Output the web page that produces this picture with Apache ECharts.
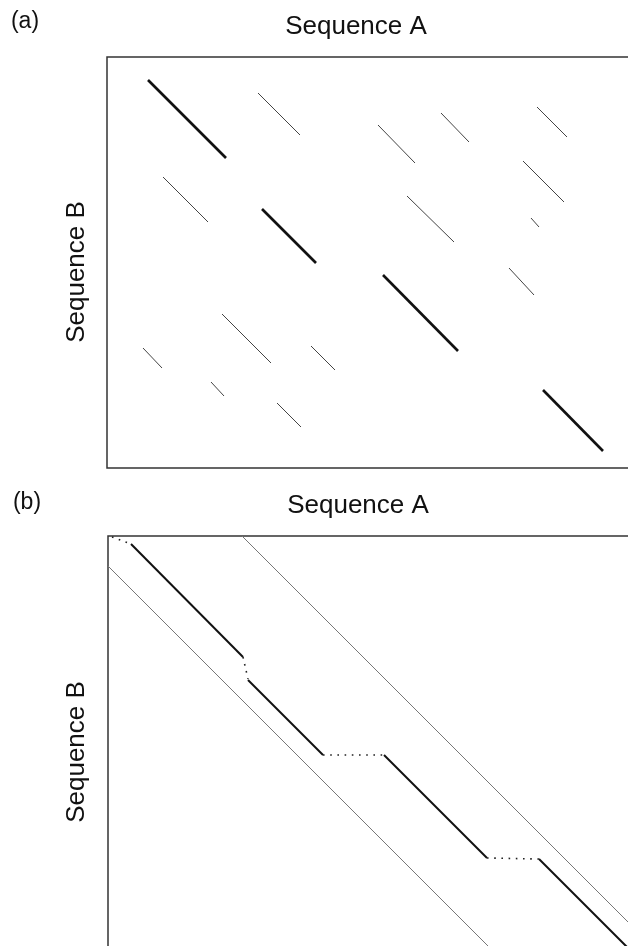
<!DOCTYPE html>
<html>
<head>
<meta charset="utf-8">
<script src="https://cdn.jsdelivr.net/npm/echarts@6/dist/echarts.min.js"></script>
<style>
html, body { margin: 0; padding: 0; background: #fff; }
#main { width: 628px; height: 946px; }
</style>
</head>
<body>
<div id="main"></div>
<script>
// dot plot (a): diagonal runs, [xStart, yStart, xEnd, yEnd] in sequence positions
var thinRunsA = [
    [151, 36, 193, 78],
    [271, 68, 308, 106],
    [334, 56, 362, 85],
    [430, 50, 460, 80],
    [56, 120, 101, 165],
    [300, 139, 347, 185],
    [416, 104, 457, 145],
    [424, 161, 432, 170],
    [402, 211, 427, 238],
    [115, 257, 164, 306],
    [36, 291, 55, 311],
    [204, 289, 228, 313],
    [104, 325, 117, 339],
    [170, 346, 194, 370]
];
var thickRunsA = [
    [41, 23, 119, 101],
    [155, 152, 209, 206],
    [276, 218, 351, 294],
    [436, 333, 496, 394]
];

// panel (b): band limits, aligned runs and gaps
var bandLinesB = [
    [134, 0, 545, 411],
    [0, 30, 390, 420]
];
var alignedRunsB = [
    [23, 8, 135, 121],
    [140, 144, 215, 219],
    [276, 219, 379, 322],
    [431, 323, 525, 417]
];
var gapRunsB = [
    [4, 1, 23, 8],
    [135, 121, 140, 143],
    [215, 219, 276, 219],
    [379, 322, 431, 323]
];

var toCoords = function (runs) {
    return runs.map(function (r) {
        return { coords: [[r[0], r[1]], [r[2], r[3]]] };
    });
};

var chartDom = document.getElementById('main');
var myChart = echarts.init(chartDom);

var hiddenAxis = {
    type: 'value',
    min: 0,
    axisLine: { show: false },
    axisTick: { show: false },
    axisLabel: { show: false },
    splitLine: { show: false }
};

var textStyle = function (text, size) {
    return {
        text: text,
        fontFamily: 'Liberation Sans, Arial, sans-serif',
        fontSize: size,
        fill: '#111',
        align: 'center',
        verticalAlign: 'middle'
    };
};

var option = {
    animation: false,
    backgroundColor: '#fff',
    grid: [
        { left: 107, top: 57, width: 540, height: 411, outerBoundsMode: 'none', show: true, borderColor: '#333', borderWidth: 1.5 },
        { left: 108, top: 536, width: 540, height: 420, outerBoundsMode: 'none', show: true, borderColor: '#333', borderWidth: 1.5 }
    ],
    xAxis: [
        Object.assign({}, hiddenAxis, { gridIndex: 0, max: 540 }),
        Object.assign({}, hiddenAxis, { gridIndex: 1, max: 540 })
    ],
    yAxis: [
        Object.assign({}, hiddenAxis, { gridIndex: 0, max: 411, inverse: true }),
        Object.assign({}, hiddenAxis, { gridIndex: 1, max: 420, inverse: true })
    ],
    graphic: [
        { type: 'text', x: 25, y: 22, style: textStyle('(a)', 23) },
        { type: 'text', x: 356, y: 27, style: textStyle('Sequence A', 26) },
        { type: 'text', x: 77, y: 272, rotation: Math.PI / 2, style: textStyle('Sequence B', 26) },
        { type: 'text', x: 27, y: 503, style: textStyle('(b)', 23) },
        { type: 'text', x: 358, y: 506, style: textStyle('Sequence A', 26) },
        { type: 'text', x: 77, y: 752, rotation: Math.PI / 2, style: textStyle('Sequence B', 26) }
    ],
    series: [
        {
            type: 'lines', coordinateSystem: 'cartesian2d', xAxisIndex: 0, yAxisIndex: 0,
            lineStyle: { color: '#444', width: 1, opacity: 1 },
            data: toCoords(thinRunsA)
        },
        {
            type: 'lines', coordinateSystem: 'cartesian2d', xAxisIndex: 0, yAxisIndex: 0,
            lineStyle: { color: '#111', width: 2.6, opacity: 1 },
            data: toCoords(thickRunsA)
        },
        {
            type: 'lines', coordinateSystem: 'cartesian2d', xAxisIndex: 1, yAxisIndex: 1,
            lineStyle: { color: '#777', width: 1, opacity: 1 },
            data: toCoords(bandLinesB)
        },
        {
            type: 'lines', coordinateSystem: 'cartesian2d', xAxisIndex: 1, yAxisIndex: 1,
            lineStyle: { color: '#111', width: 2, opacity: 1 },
            data: toCoords(alignedRunsB)
        },
        {
            type: 'lines', coordinateSystem: 'cartesian2d', xAxisIndex: 1, yAxisIndex: 1,
            lineStyle: { color: '#222', width: 1.6, opacity: 1, type: [1.6, 5.6] },
            data: toCoords(gapRunsB)
        }
    ]
};
myChart.setOption(option);
</script>
</body>
</html>
